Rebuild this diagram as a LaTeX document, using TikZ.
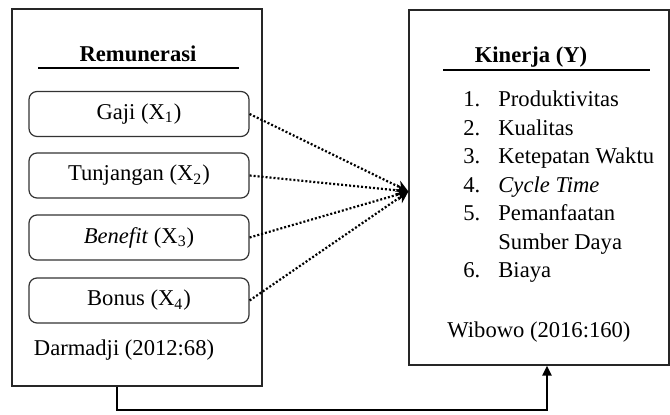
\documentclass[tikz,border=0pt]{standalone}
\usepackage{fontspec}
\setmainfont{Liberation Serif}
\usetikzlibrary{arrows.meta}

\begin{document}
\begin{tikzpicture}[x=0.5pt,y=-0.5pt,
  font=\fontsize{11.3}{13}\selectfont,
  outer/.style={draw=black!85,line width=0.6pt,inner sep=0pt},
  inner/.style={draw=black!80,line width=0.6pt,rounded corners=4pt,minimum width=110pt,minimum height=22.5pt,inner sep=0pt},
  titletxt/.style={font=\fontsize{11.3}{13}\selectfont\bfseries,anchor=base,inner sep=0pt},
  rule/.style={line width=1pt},
  dotline/.style={line width=1.1pt,dash pattern=on 1pt off 1pt,-{Stealth[length=6pt,width=6pt]}},
  item/.style={anchor=base west,inner sep=0pt}]
\path[use as bounding box] (0,0) rectangle (670,415);
\node[outer,minimum width=125pt,minimum height=188.5pt] (rem) at (137,197.5) {};
\node[outer,minimum width=130pt,minimum height=177.5pt] (kin) at (539,187.5) {};
\node[titletxt] (remtitle) at (138,62) {Remunerasi};
\draw[rule] (38,68) -- (239,68);
\node[inner] (gaji) at (139,114) {Gaji (X\textsubscript{1})};
\node[inner] (tunj) at (139,175.5) {Tunjangan (X\textsubscript{2})};
\node[inner] (bene) at (139,237.5) {\textit{Benefit} (X\textsubscript{3})};
\node[inner] (bonus) at (139,300.5) {Bonus (X\textsubscript{4})};
\node (darm) at (124,350) {Darmadji (2012:68)};
\node[titletxt] (kintitle) at (531,63) {Kinerja (Y)};
\draw[rule] (443,70) -- (650,70);
\foreach \n/\t/\yy in {1/Produktivitas/107,2/Kualitas/135.5,3/Ketepatan Waktu/164,4/\textit{Cycle Time}/192.5,5/Pemanfaatan/221,6/Biaya/278}{
  \node[item] (num\n) at (463,\yy) {\n.};
  \node[item] (txt\n) at (498,\yy) {\t};
}
\node[item] (txt5b) at (498,249.5) {Sumber Daya};
\node (wib) at (539,332) {Wibowo (2016:160)};
\coordinate (tip) at ([yshift=-2pt]kin.west);
\foreach \s in {gaji,tunj,bene,bonus}
  \draw[dotline] (\s.east) -- (tip);
\coordinate (bend) at (117,410);
\draw[line width=1.2pt,-{Triangle[length=5pt,width=4.5pt]}] ([xshift=-10pt]rem.south) |- (bend) -| ([xshift=4pt]kin.south);
\end{tikzpicture}
\end{document}
